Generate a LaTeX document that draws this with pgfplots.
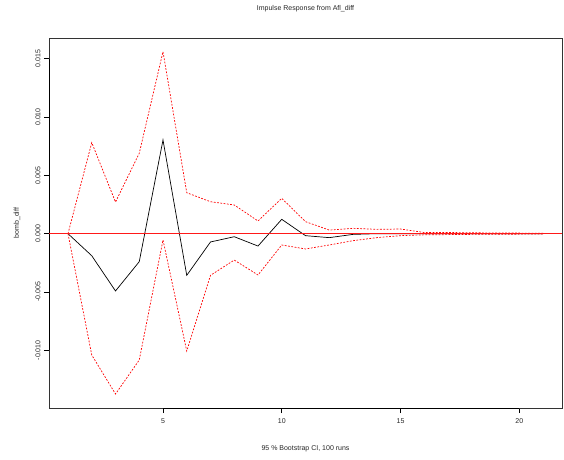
\documentclass[border=0pt]{standalone}
\usepackage{fontspec}
\setmainfont{Liberation Sans}
\usepackage{pgfplots}
\pgfplotsset{compat=1.18}
\begin{document}
\begin{tikzpicture}
\useasboundingbox (-49pt,-51pt) rectangle (515pt,408pt);
\begin{axis}[
  scale only axis,
  width=513pt, height=370pt,
  at={(0,0)}, anchor=south west,
  xmin=0.2, xmax=21.8,
  ymin=-0.01494, ymax=0.01677,
  axis line style={black!80, line width=0.6pt},
  xtick={5,10,15,20},
  ytick={-0.010,-0.005,0,0.005,0.010,0.015},
  scaled y ticks=false,
  /pgf/number format/assume math mode=true,
  yticklabel style={/pgf/number format/fixed, /pgf/number format/fixed zerofill, /pgf/number format/precision=3, rotate=90, anchor=south},
  tick align=outside,
  major tick length=5pt,
  tick style={black, line width=0.6pt},
  xtick pos=bottom, ytick pos=left,
  font=\fontsize{7}{8}\selectfont,
  tick label style={font=\fontsize{7}{8}\selectfont, text=black!85},
  xticklabel style={yshift=-2pt},
  title={Impulse Response from Afl\_diff},
  title style={at={(0.5,1)}, anchor=south, yshift=17pt, text=black!85},
  xlabel={95 \% Bootstrap CI,  100 runs},
  xlabel style={at={(0.5,0)}, anchor=center, yshift=-41pt, text=black!85},
  ylabel={bomb\_diff},
  ylabel style={at={(axis description cs:-0.0624,0.5)}, anchor=center, text=black!85},
  clip=false,
]
% axis spans like R
\draw[black, line width=0.9pt] (axis cs:5,-0.01494) -- (axis cs:20,-0.01494);
\draw[black, line width=0.9pt] (axis cs:0.2,-0.010) -- (axis cs:0.2,0.015);
% response
\addplot[black, line width=0.7pt] coordinates {
(1,0) (2,-0.00189) (3,-0.00491) (4,-0.0024) (5,0.00803) (6,-0.00357) (7,-0.00071) (8,-0.00026) (9,-0.00106) (10,0.00123)
(11,-0.00017) (12,-0.00034) (13,-0.00006) (14,0) (15,0) (16,0) (17,0) (18,0) (19,0) (20,0) (21,0)};
% upper CI
\addplot[red, line width=0.7pt, dash pattern=on 1.8pt off 1.5pt] coordinates {
(1,0) (2,0.0078) (3,0.00271) (4,0.00689) (5,0.0156) (6,0.00351) (7,0.00274) (8,0.00246) (9,0.00109) (10,0.00303)
(11,0.00103) (12,0.00031) (13,0.00046) (14,0.00037) (15,0.0004) (16,0.0001) (17,0.0001) (18,0.00008) (19,0.00006) (20,0.00005) (21,0.00004)};
% lower CI
\addplot[red, line width=0.7pt, dash pattern=on 1.8pt off 1.5pt] coordinates {
(1,0) (2,-0.0104) (3,-0.01374) (4,-0.01083) (5,-0.00054) (6,-0.01006) (7,-0.00357) (8,-0.00226) (9,-0.00354) (10,-0.00097)
(11,-0.00131) (12,-0.00097) (13,-0.0006) (14,-0.00034) (15,-0.00017) (16,-0.0001) (17,-0.00008) (18,-0.00006) (19,-0.00005) (20,-0.00004) (21,-0.00003)};
\coordinate (zl) at (axis cs:0.2,0);
\coordinate (zr) at (axis cs:21.8,0);
\end{axis}
% zero line drawn on top
\draw[red!90, line width=1pt, solid] (zl) -- (zr);
\end{tikzpicture}
\end{document}
